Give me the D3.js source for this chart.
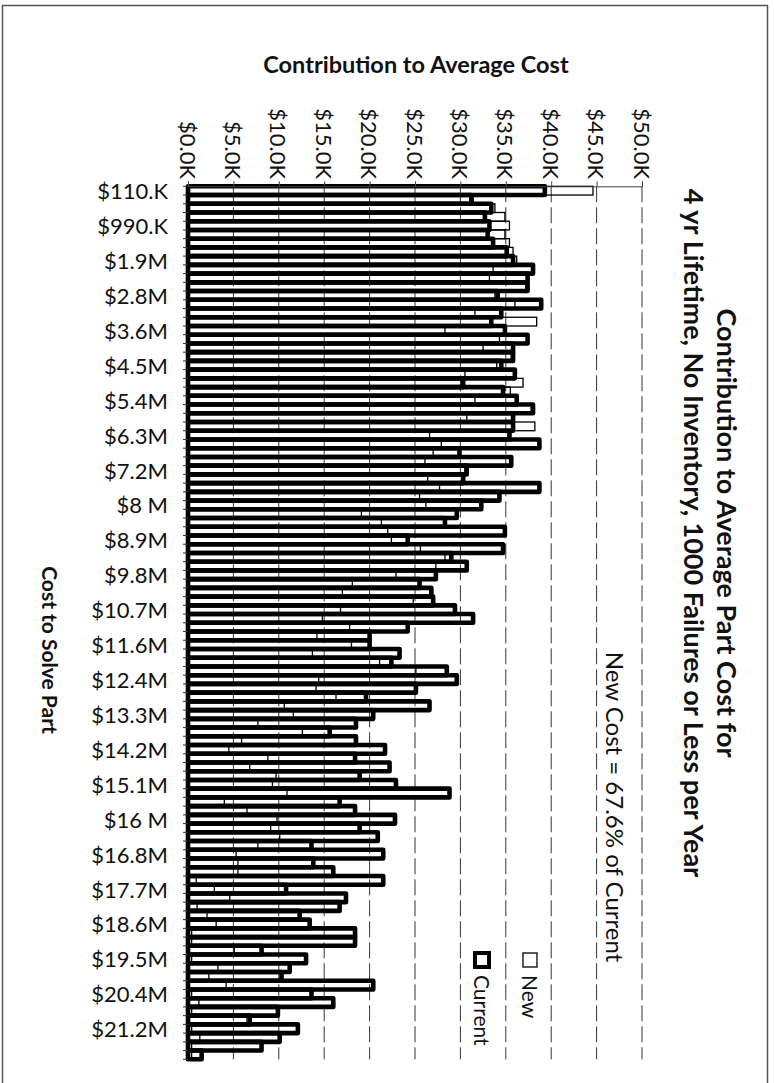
<!DOCTYPE html>
<html>
<head>
<meta charset="utf-8">
<script src="https://cdn.jsdelivr.net/npm/d3@7"></script>
<style>
  html, body { margin: 0; padding: 0; background: #fff; }
  svg { display: block; font-family: Lato, "Open Sans", sans-serif; }
</style>
</head>
<body>
<svg id="chart" width="775" height="1083"></svg>
<script>
// Cost-to-solve bins ($220K wide); every fourth bin carries a label
const categoryLabels = ["$110.K","$990.K","$1.9M","$2.8M","$3.6M","$4.5M","$5.4M","$6.3M","$7.2M","$8 M",
  "$8.9M","$9.8M","$10.7M","$11.6M","$12.4M","$13.3M","$14.2M","$15.1M","$16 M","$16.8M",
  "$17.7M","$18.6M","$19.5M","$20.4M","$21.2M"];
const labelEvery = 4;

// Value axis ticks, $K
const valueTicks = [0, 5, 10, 15, 20, 25, 30, 35, 40, 45, 50];
const valueTickLabels = ["$0.0K","$5.0K","$10.0K","$15.0K","$20.0K","$25.0K","$30.0K","$35.0K","$40.0K","$45.0K","$50.0K"];

// Contribution to average part cost, $K, one value per bin
const currentValues = [
  39.3, 31.2, 33.4, 32.7, 33.2, 33.0, 33.6, 35.1, 35.8, 38.0,
  37.4, 37.4, 34.1, 38.9, 34.5, 33.4, 34.9, 37.4, 35.8, 35.8,
  34.5, 36.0, 30.3, 34.7, 36.2, 38.0, 35.8, 35.8, 35.4, 38.7,
  29.9, 35.6, 30.7, 30.3, 38.7, 34.3, 32.3, 29.6, 28.3, 34.9,
  24.2, 34.7, 29.0, 30.7, 27.3, 25.5, 26.8, 27.0, 29.4, 31.4,
  24.2, 20.0, 20.0, 23.3, 22.4, 28.5, 29.6, 25.1, 19.6, 26.6,
  20.4, 18.5, 15.6, 18.5, 21.7, 18.4, 22.2, 18.9, 22.9, 28.8,
  16.7, 18.4, 22.8, 18.9, 20.9, 13.6, 21.5, 13.8, 16.0, 21.5,
  10.8, 17.4, 16.7, 12.3, 13.4, 18.4, 18.4, 8.1, 13.0, 11.2,
  10.3, 20.4, 13.6, 16.0, 9.9, 6.8, 12.1, 10.1, 8.1, 1.5
];
const newValues = [
  44.6, 31.4, 33.8, 34.9, 35.4, 34.9, 35.4, 35.8, 36.2, 33.6,
  33.2, 37.2, 33.8, 36.0, 31.6, 38.4, 28.3, 34.3, 32.5, 35.6,
  34.0, 30.5, 36.9, 35.5, 31.6, 37.8, 30.7, 38.2, 26.6, 27.9,
  27.0, 26.1, 30.5, 26.4, 27.7, 25.5, 26.2, 19.1, 21.3, 22.0,
  22.4, 25.6, 28.3, 27.3, 22.9, 18.1, 17.0, 24.8, 16.8, 14.8,
  17.8, 14.2, 18.0, 13.7, 21.1, 25.1, 14.4, 14.1, 16.3, 10.6,
  11.6, 7.7, 12.6, 5.9, 4.5, 8.8, 6.8, 9.7, 9.3, 10.9,
  4.0, 6.5, 9.8, 9.1, 10.1, 7.7, 5.3, 5.5, 5.5, 0.9,
  2.9, 4.6, 1.0, 2.1, 3.1, 0.4, 0.4, 5.1, 0.4, 3.3,
  2.3, 4.2, 0.4, 1.2, 0.4, 6.5, 0.4, 1.3, 0.4, 0.4
];

const titleLines = ["Contribution to Average Part Cost for",
                    "4 yr Lifetime, No Inventory, 1000 Failures or Less per Year"];
const valueAxisTitle = "Contribution to Average Cost";
const categoryAxisTitle = "Cost to Solve Part";
const note = "New Cost = 67.6% of Current";
const seriesNames = ["New", "Current"];

const svg = d3.select("#chart");

// Frame around the chart area
svg.append("rect")
  .attr("x", 2.5).attr("y", 5.5).attr("width", 765).attr("height", 1100)
  .attr("fill", "none").attr("stroke", "#555").attr("stroke-width", 1.5);

const plot = { left: 188, right: 642, top: 186.3, bottom: 1059.3 };

const x = d3.scaleLinear().domain([0, 50]).range([plot.left, plot.right]);
const y = d3.scaleBand().domain(d3.range(currentValues.length))
  .range([plot.top, plot.bottom]).padding(0);

// Dashed gridlines
svg.append("g").selectAll("line")
  .data(valueTicks.filter(v => v > 0))
  .join("line")
  .attr("x1", d => x(d)).attr("x2", d => x(d))
  .attr("y1", plot.top).attr("y2", plot.bottom)
  .attr("stroke", "#333").attr("stroke-width", 1)
  .attr("stroke-dasharray", "16,5");

// Current series: heavy outline
svg.append("g").selectAll("rect")
  .data(currentValues)
  .join("rect")
  .attr("x", x(0))
  .attr("y", (d, i) => y(i))
  .attr("width", d => x(d) - x(0))
  .attr("height", y.bandwidth())
  .attr("fill", "none")
  .attr("stroke", "#000")
  .attr("stroke-width", 4.6)
  .attr("stroke-linejoin", "round");

// New series: thin outline, same band
svg.append("g").selectAll("rect")
  .data(newValues)
  .join("rect")
  .attr("x", x(0))
  .attr("y", (d, i) => y(i))
  .attr("width", d => x(d) - x(0))
  .attr("height", y.bandwidth())
  .attr("fill", "none")
  .attr("stroke", "#000")
  .attr("stroke-width", 1.3);

// Value axis along the top
const topAxis = svg.append("g").attr("transform", `translate(0,${plot.top})`)
  .call(d3.axisTop(x).tickValues(valueTicks).tickSize(5).tickFormat(""));
topAxis.select(".domain").attr("stroke", "#444").attr("stroke-width", 1);
topAxis.selectAll(".tick line").attr("stroke", "#444");

svg.append("g").selectAll("text")
  .data(valueTicks)
  .join("text")
  .attr("transform", d => `translate(${x(d)},179) rotate(90)`)
  .attr("text-anchor", "end")
  .attr("dominant-baseline", "central")
  .attr("font-size", 22)
  .attr("fill", "#111")
  .text((d, i) => valueTickLabels[i]);

// Category axis on the left
const leftAxis = svg.append("g").attr("transform", `translate(${plot.left},0)`)
  .call(d3.axisLeft(y).tickSize(0).tickFormat(""));
leftAxis.select(".domain").attr("stroke", "#000").attr("stroke-width", 1.5);
svg.append("g").selectAll("line")
  .data(d3.range(currentValues.length + 1))
  .join("line")
  .attr("x1", plot.left - 5).attr("x2", plot.left)
  .attr("y1", i => plot.top + i * y.bandwidth())
  .attr("y2", i => plot.top + i * y.bandwidth())
  .attr("stroke", "#333").attr("stroke-width", 1);

svg.append("g").selectAll("text")
  .data(categoryLabels)
  .join("text")
  .attr("x", 168)
  .attr("y", (d, i) => y(i * labelEvery) + y.bandwidth() / 2)
  .attr("text-anchor", "end")
  .attr("dominant-baseline", "central")
  .attr("font-size", 22)
  .attr("fill", "#111")
  .text(d => d);

// Axis titles
svg.append("text")
  .attr("x", 416).attr("y", 64)
  .attr("text-anchor", "middle").attr("dominant-baseline", "central")
  .attr("font-size", 23.5).attr("font-weight", "bold").attr("fill", "#111")
  .text(valueAxisTitle);

svg.append("text")
  .attr("transform", "translate(50,650) rotate(90)")
  .attr("text-anchor", "middle").attr("dominant-baseline", "central")
  .attr("font-size", 21).attr("font-weight", "bold").attr("fill", "#111")
  .text(categoryAxisTitle);

// Chart title, two lines running down the right side
svg.append("g").selectAll("text")
  .data(titleLines)
  .join("text")
  .attr("transform", (d, i) => `translate(${727 - i * 33},533) rotate(90)`)
  .attr("text-anchor", "middle").attr("dominant-baseline", "central")
  .attr("font-size", 27).attr("font-weight", "bold").attr("fill", "#111")
  .text(d => d);

// Summary note
svg.append("text")
  .attr("transform", "translate(615,807) rotate(90)")
  .attr("text-anchor", "middle").attr("dominant-baseline", "central")
  .attr("font-size", 24).attr("fill", "#111")
  .text(note);

// Legend
const legend = svg.append("g");
const legendItems = [
  { name: seriesNames[0], cx: 530, sw: 1.3 },
  { name: seriesNames[1], cx: 482, sw: 4 }
];
legendItems.forEach(item => {
  legend.append("rect")
    .attr("x", item.cx - 7).attr("y", 953).attr("width", 14).attr("height", 14)
    .attr("fill", "#fff").attr("stroke", "#000").attr("stroke-width", item.sw);
  legend.append("text")
    .attr("transform", `translate(${item.cx},975) rotate(90)`)
    .attr("text-anchor", "start").attr("dominant-baseline", "central")
    .attr("font-size", 21).attr("fill", "#111")
    .text(item.name);
});
</script>
</body>
</html>
